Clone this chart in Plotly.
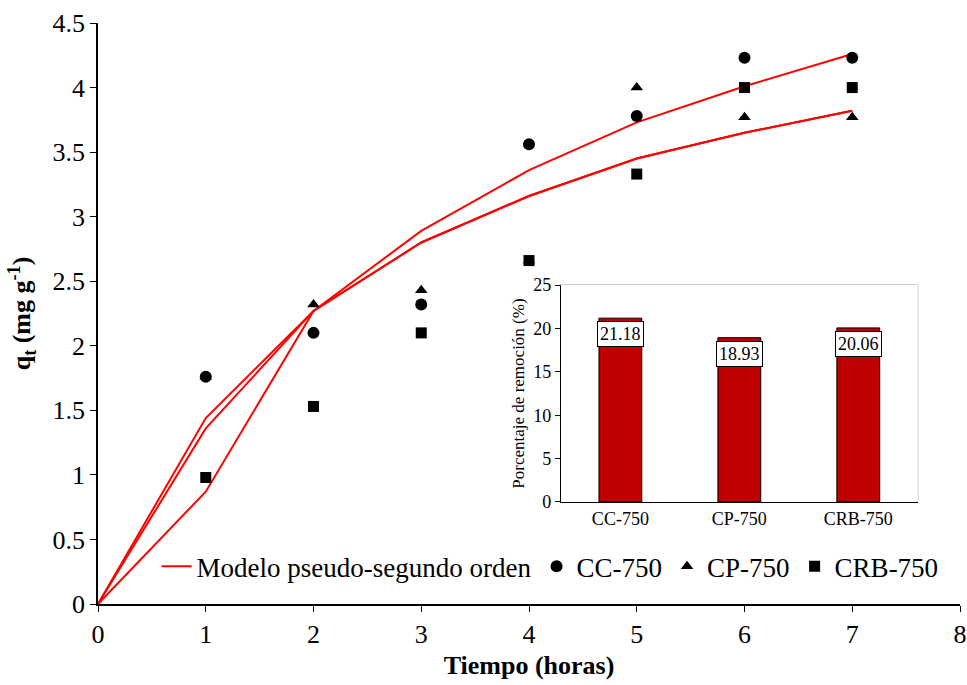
import plotly.graph_objects as go

# ---- data ----
tiempo = [1, 2, 3, 4, 5, 6, 7]
cc_750 = [1.76, 2.10, 2.32, 3.56, 3.78, 4.23, 4.23]
cp_750 = [1.76, 2.32, 2.43, 2.66, 4.00, 3.77, 3.77]
crb_750 = [0.98, 1.53, 2.10, 2.66, 3.33, 4.00, 4.00]

tiempo_modelo = [0, 1, 2, 3, 4, 5, 6, 7]
modelo_cc = [0, 1.44, 2.27, 2.89, 3.36, 3.73, 4.01, 4.26]
modelo_cp = [0, 1.36, 2.27, 2.80, 3.16, 3.45, 3.65, 3.82]
modelo_crb = [0, 0.87, 2.27, 2.80, 3.16, 3.45, 3.65, 3.82]

muestras = ["CC-750", "CP-750", "CRB-750"]
remocion = [21.18, 18.93, 20.06]

y_ticks = [0, 0.5, 1, 1.5, 2, 2.5, 3, 3.5, 4, 4.5]
y_ticktext = ["0", "0.5", "1", "1.5", "2", "2.5", "3", "3.5", "4", "4.5"]
x_ticks = [0, 1, 2, 3, 4, 5, 6, 7, 8]

FONT = "'Liberation Serif', 'Times New Roman', 'DejaVu Serif', serif"
RED = "#FF0000"

fig = go.Figure()

# model lines
for i, ys in enumerate([modelo_cc, modelo_cp, modelo_crb]):
    fig.add_trace(go.Scatter(
        x=tiempo_modelo, y=ys, mode="lines",
        line=dict(color=RED, width=2),
        name="Modelo pseudo-segundo orden",
        showlegend=(i == 0), legendrank=1,
        xaxis="x", yaxis="y"))

# data points (triangles first so circles/squares sit above)
fig.add_trace(go.Scatter(
    x=tiempo, y=cp_750, mode="markers", name="CP-750", legendrank=3,
    marker=dict(symbol="triangle-up", size=11, color="black")))
fig.add_trace(go.Scatter(
    x=tiempo, y=cc_750, mode="markers", name="CC-750", legendrank=2,
    marker=dict(symbol="circle", size=12, color="black")))
fig.add_trace(go.Scatter(
    x=tiempo, y=crb_750, mode="markers", name="CRB-750", legendrank=4,
    marker=dict(symbol="square", size=11, color="black")))

# inset bars
fig.add_trace(go.Bar(
    x=muestras, y=remocion, xaxis="x2", yaxis="y2", showlegend=False,
    width=0.36, marker=dict(color="#C00000", line=dict(color="black", width=1))))

for m, v in zip(muestras, remocion):
    fig.add_annotation(
        x=m, y=v, xref="x2", yref="y2", text=f"{v:.2f}", showarrow=False,
        yanchor="top", yshift=-3, bgcolor="white", bordercolor="black",
        borderwidth=1, borderpad=2, font=dict(family=FONT, size=18, color="black"))

# gray frame of inset
fig.add_shape(type="rect", xref="x2 domain", yref="y2 domain",
              x0=0, x1=1, y0=0, y1=1, line=dict(color="#9a9a9a", width=1),
              fillcolor="white", layer="below")

fig.update_layout(
    width=967, height=685,
    margin=dict(l=98, r=7, t=23, b=81, autoexpand=False),
    paper_bgcolor="white", plot_bgcolor="white",
    font=dict(family=FONT, size=26, color="black"),
    showlegend=True,
    legend=dict(orientation="h", x=0.068, xanchor="left", y=0.064, yanchor="middle",
                font=dict(family=FONT, size=27, color="black"),
                bgcolor="rgba(0,0,0,0)", itemwidth=30, traceorder="normal"),
    xaxis=dict(domain=[0, 1], range=[0, 8], tickvals=x_ticks, showgrid=False,
               zeroline=False, showline=True, linecolor="black", linewidth=1.5,
               ticks="outside", ticklen=6, tickcolor="black", tickwidth=1,
               automargin=False,
               tickfont=dict(family=FONT, size=26),
               title=dict(text="<b>Tiempo (horas)</b>", font=dict(family=FONT, size=26),
                          standoff=8)),
    yaxis=dict(domain=[0, 1], range=[0, 4.5], tickvals=y_ticks, ticktext=y_ticktext,
               showgrid=False, zeroline=False, showline=True, linecolor="black",
               linewidth=1.5, ticks="outside", ticklen=6, tickcolor="black", tickwidth=1,
               automargin=False,
               tickfont=dict(family=FONT, size=26),
               title=dict(text="<b>q<sub>t</sub> (mg g<sup>-1</sup>)</b>",
                          font=dict(family=FONT, size=26), standoff=14)),
    xaxis2=dict(domain=[0.537, 0.951], anchor="y2", range=[-0.5, 2.5],
                showgrid=False, zeroline=False, showline=True, linecolor="black",
                linewidth=1, ticks="", automargin=False,
                tickfont=dict(family=FONT, size=18)),
    yaxis2=dict(domain=[0.1756, 0.549], anchor="x2", range=[0, 25], dtick=5,
                showgrid=False, zeroline=False, showline=True, linecolor="black",
                linewidth=1, ticks="outside", ticklen=5, tickcolor="black",
                automargin=False,
                tickfont=dict(family=FONT, size=18),
                title=dict(text="Porcentaje de remoción (%)",
                           font=dict(family=FONT, size=17), standoff=4)),
)

fig.write_html("out.html")
